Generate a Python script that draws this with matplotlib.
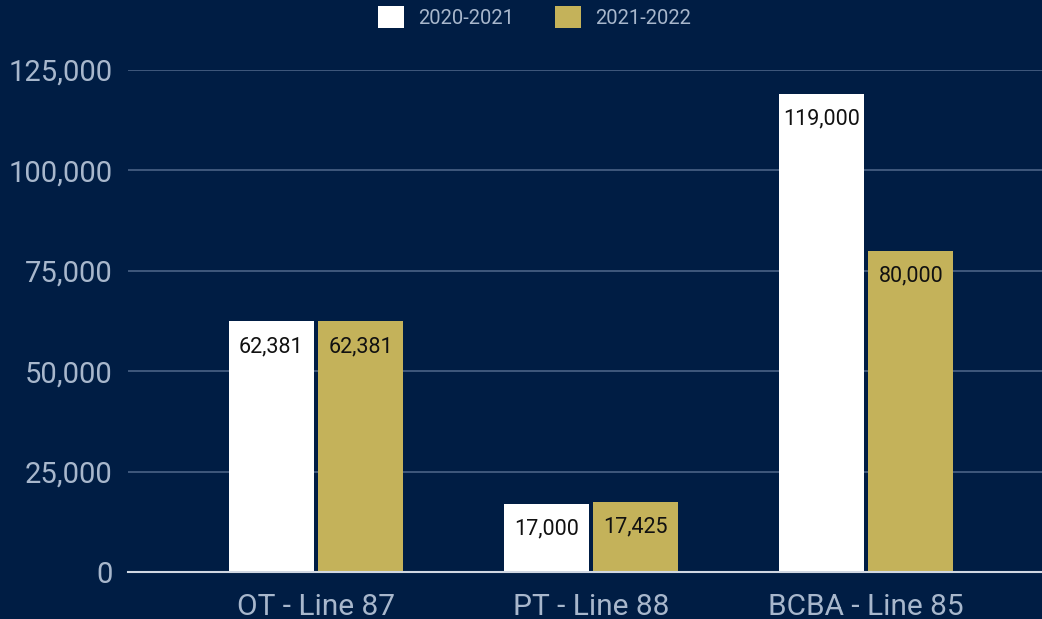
import matplotlib.pyplot as plt
import numpy as np

plt.rcParams['font.family'] = ['Roboto', 'DejaVu Sans']

categories = ['OT - Line 87', 'PT - Line 88', 'BCBA - Line 85']
y2020 = [62381, 17000, 119000]
y2021 = [62381, 17425, 80000]
series_names = ['2020-2021', '2021-2022']

bg = '#001d44'
gold = '#c4b25a'
tick_col = '#a8b7cc'

fig = plt.figure(figsize=(10.42, 6.19), dpi=100, facecolor=bg)
ax = fig.add_axes([0.1228, 0.0759, 0.8772, 0.811], facecolor=bg)

x = np.arange(len(categories))
w = 0.31
gap = 0.008
b1 = ax.bar(x - w / 2 - gap, y2020, w, color='white', label=series_names[0], zorder=3)
b2 = ax.bar(x + w / 2 + gap, y2021, w, color=gold, label=series_names[1], zorder=3)

# value labels just inside the top of each bar
for bars, vals in [(b1, y2020), (b2, y2021)]:
    for r, v in zip(bars, vals):
        ax.annotate(f'{v:,}', (r.get_x() + r.get_width() / 2, v),
                    xytext=(0, -25), textcoords='offset pixels',
                    ha='center', va='center', fontsize=15.5, color='#111111', zorder=4)

ax.set_ylim(0, 125000)
ax.set_xlim(-0.684, 2.64)
ax.set_yticks(np.arange(0, 125001, 25000))
ax.set_yticklabels([f'{t:,}' for t in range(0, 125001, 25000)])
ax.set_xticks(x)
ax.set_xticklabels(categories)
ax.tick_params(axis='y', length=0, labelsize=21, labelcolor=tick_col, pad=11)
ax.tick_params(axis='x', length=0, labelsize=21.5, labelcolor=tick_col, pad=15)
ax.yaxis.grid(True, color='#4a6285', linewidth=1.2, zorder=0)
ax.set_axisbelow(True)
for s in ['top', 'right', 'left']:
    ax.spines[s].set_visible(False)
ax.spines['bottom'].set_color('#d0d7e2')
ax.spines['bottom'].set_linewidth(1.5)
ax.spines['bottom'].set_zorder(5)

fig.legend(handles=[b1, b2], loc='center', bbox_to_anchor=(0.513, 0.972), ncol=2,
           frameon=False, fontsize=14.5, labelcolor=tick_col, handlelength=1.3,
           handleheight=1.3, handletextpad=0.7, columnspacing=2.0)

fig.savefig('out.png', dpi=100, facecolor=bg)
